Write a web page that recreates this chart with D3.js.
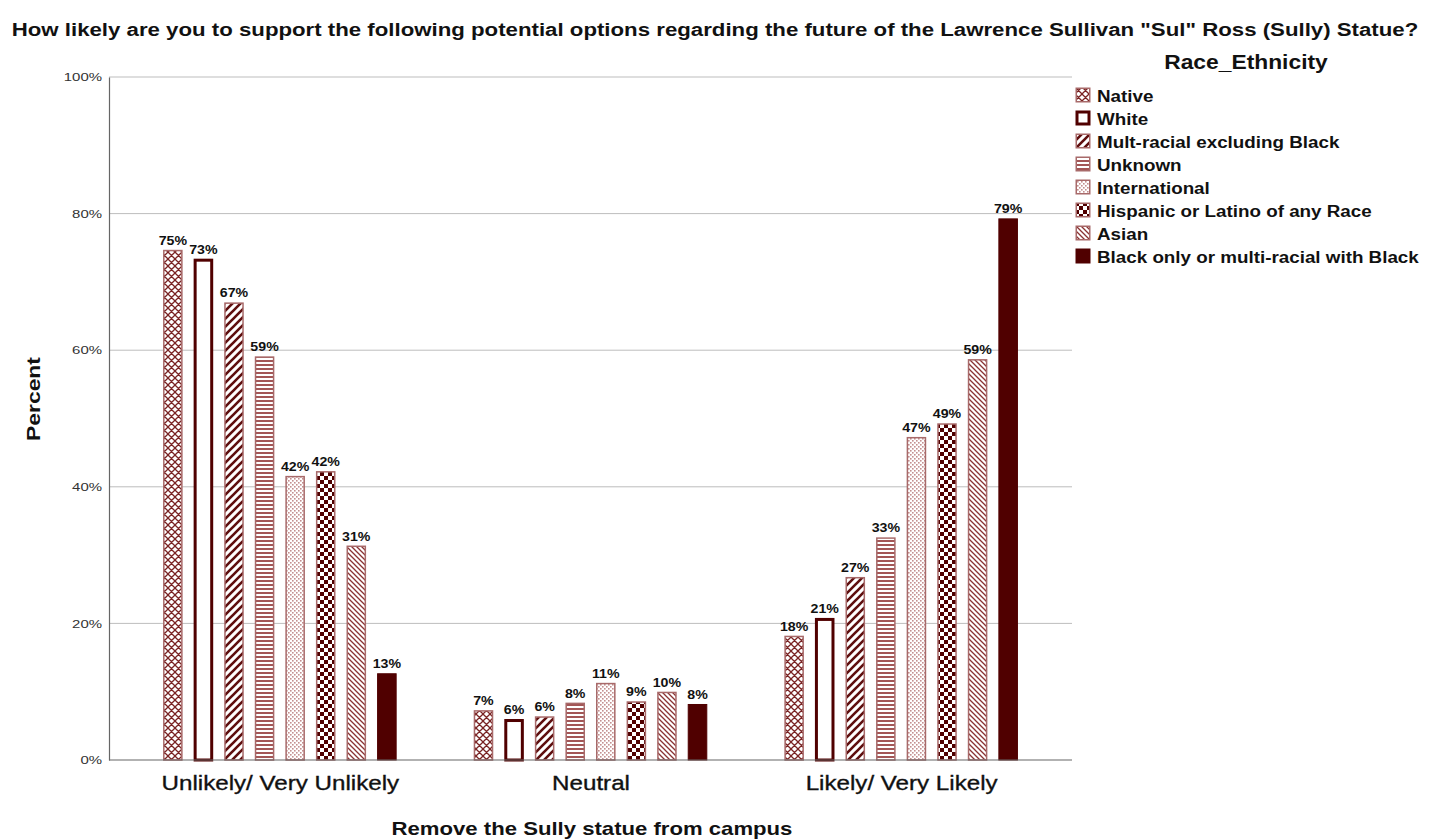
<!DOCTYPE html>
<html>
<head>
<meta charset="utf-8">
<script src="https://cdn.jsdelivr.net/npm/d3@7"></script>
<style>
  html, body { margin: 0; padding: 0; background: #fff; }
  svg { display: block; font-family: "Liberation Sans", Arial, sans-serif; }
</style>
</head>
<body>
<svg id="chart" width="1437" height="840"></svg>
<script>
// Response categories along the x axis
const categories = ["Unlikely/ Very Unlikely", "Neutral", "Likely/ Very Likely"];

// Race / ethnicity groups (legend order)
const groups = [
  "Native",
  "White",
  "Mult-racial excluding Black",
  "Unknown",
  "International",
  "Hispanic or Latino of any Race",
  "Asian",
  "Black only or multi-racial with Black"
];

// Percent of each group choosing each response
const nativeVals   = [74.7, 7.3, 18.2];
const whiteVals    = [73.4, 6.0, 20.8];
const multiVals    = [67.0, 6.4, 26.8];
const unknownVals  = [59.1, 8.4, 32.6];
const intlVals     = [41.6, 11.3, 47.3];
const hispanicVals = [42.3, 8.6, 49.3];
const asianVals    = [31.4, 10.0, 58.7];
const blackVals    = [12.7, 8.2, 79.3];

const seriesValues = [nativeVals, whiteVals, multiVals, unknownVals, intlVals, hispanicVals, asianVals, blackVals];

const yTicks = [0, 20, 40, 60, 80, 100];

const chartTitle = "How likely are you to support the following potential options regarding the future of the Lawrence Sullivan \"Sul\" Ross (Sully) Statue?";
const xTitle = "Remove the Sully statue from campus";
const yTitle = "Percent";
const legendTitle = "Race_Ethnicity";

const rows = [];
categories.forEach((c, ci) => {
  groups.forEach((g, gi) => rows.push({ cat: c, group: g, gi: gi, value: seriesValues[gi][ci] }));
});

const svg = d3.select("#chart");
const maroon = "#500000";
const light = "#a86a6a";

// widen glyphs horizontally by a factor (the output uses a broad face)
function widen(sel, k) {
  sel.each(function () {
    const w = this.getComputedTextLength();
    d3.select(this).attr("textLength", w * k).attr("lengthAdjust", "spacingAndGlyphs");
  });
}

// ---- fill patterns ----
const defs = svg.append("defs");
function pat(id, w, h) {
  return defs.append("pattern").attr("id", id).attr("patternUnits", "userSpaceOnUse")
    .attr("width", w).attr("height", h);
}
// diamond crosshatch
let p = pat("p0", 7, 7);
p.append("rect").attr("width", 7).attr("height", 7).attr("fill", "#fff");
p.append("path").attr("d", "M0,0L7,7M7,0L0,7M-1,6L1,8M6,-1L8,1").attr("stroke", "#7a2424").attr("stroke-width", 1.3);
// wide forward diagonals
p = pat("p2", 8, 8);
p.append("rect").attr("width", 8).attr("height", 8).attr("fill", "#fff");
p.append("path").attr("d", "M-2,10L10,-2M-2,2L2,-2M6,10L10,6").attr("stroke", "#5e0e0e").attr("stroke-width", 2.6);
// horizontal stripes
p = pat("p3", 4, 4);
p.append("rect").attr("width", 4).attr("height", 4).attr("fill", "#fff");
p.append("rect").attr("y", 0).attr("width", 4).attr("height", 2).attr("fill", "#a35656");
// fine dots
p = pat("p4", 4, 4);
p.append("rect").attr("width", 4).attr("height", 4).attr("fill", "#fff");
p.append("rect").attr("x", 0).attr("y", 0).attr("width", 1.6).attr("height", 1.6).attr("fill", "#c49090");
p.append("rect").attr("x", 2).attr("y", 2).attr("width", 1.6).attr("height", 1.6).attr("fill", "#c49090");
// checkerboard
p = pat("p5", 8, 8);
p.append("rect").attr("width", 8).attr("height", 8).attr("fill", "#fff");
p.append("rect").attr("width", 4).attr("height", 4).attr("fill", maroon);
p.append("rect").attr("x", 4).attr("y", 4).attr("width", 4).attr("height", 4).attr("fill", maroon);
// narrow back diagonals
p = pat("p6", 5, 5);
p.append("rect").attr("width", 5).attr("height", 5).attr("fill", "#fff");
p.append("path").attr("d", "M-1,-1L6,6M-1,4L1,6M4,-1L6,1").attr("stroke", "#8a3333").attr("stroke-width", 1.3);

const fills = ["url(#p0)", "#fff", "url(#p2)", "url(#p3)", "url(#p4)", "url(#p5)", "url(#p6)", maroon];
const strokes = [light, maroon, light, light, light, light, light, maroon];
const strokeW = [1.5, 3, 1.5, 1.5, 1.5, 1.5, 1.5, 1];

// ---- scales ----
const plotL = 109, plotR = 1072, plotT = 77, plotB = 760;
const x0 = d3.scalePoint().domain(categories).range([plotL, plotR]).padding(0.55);
const groupWidth = 244.6;
const x1 = d3.scaleBand().domain(groups).range([-groupWidth / 2, groupWidth / 2])
  .paddingInner(0.36).paddingOuter(0.18);
const y = d3.scaleLinear().domain([0, 100]).range([plotB, plotT]);

// ---- grid ----
svg.append("g").selectAll("line").data(yTicks.filter(t => t > 0)).join("line")
  .attr("x1", plotL).attr("x2", plotR)
  .attr("y1", d => y(d)).attr("y2", d => y(d))
  .attr("stroke", "#bdbdbd").attr("stroke-width", 1);

// ---- y axis ----
const yAxis = svg.append("g").attr("transform", `translate(${plotL},0)`)
  .call(d3.axisLeft(y).tickValues(yTicks).tickFormat(d => d + "%").tickSize(0).tickPadding(7));
yAxis.select(".domain").attr("stroke", "#666").attr("stroke-width", 1.2);
yAxis.selectAll("text").attr("font-size", 11.5).attr("fill", "#333")
  .attr("font-family", "'Liberation Sans', Arial, sans-serif");
widen(yAxis.selectAll("text"), 1.3);

// ---- bars ----
svg.append("g").selectAll("rect").data(rows).join("rect")
  .attr("x", d => x0(d.cat) + x1(d.group) + strokeW[d.gi] / 2)
  .attr("y", d => y(d.value) + strokeW[d.gi] / 2)
  .attr("width", d => x1.bandwidth() - strokeW[d.gi])
  .attr("height", d => Math.max(0, plotB - y(d.value) - strokeW[d.gi] / 2))
  .attr("fill", d => fills[d.gi])
  .attr("stroke", d => strokes[d.gi])
  .attr("stroke-width", d => strokeW[d.gi]);

// value labels
const vl = svg.append("g").selectAll("text").data(rows).join("text")
  .attr("x", d => x0(d.cat) + x1(d.group) + x1.bandwidth() / 2)
  .attr("y", d => y(d.value) - 5)
  .attr("text-anchor", "middle")
  .attr("font-size", 13.5).attr("font-weight", "bold").attr("fill", "#111")
  .text(d => Math.round(d.value) + "%");
widen(vl, 1.05);

// ---- x axis ----
svg.append("line").attr("x1", plotL).attr("x2", plotR).attr("y1", plotB).attr("y2", plotB)
  .attr("stroke", "#666").attr("stroke-width", 1.2);
const xAxis = svg.append("g").attr("transform", `translate(0,${plotB})`)
  .call(d3.axisBottom(x0).tickSize(0).tickPadding(15));
xAxis.select(".domain").remove();
xAxis.selectAll("text").attr("font-size", 21).attr("fill", "#111")
  .attr("stroke", "#111").attr("stroke-width", 0.35)
  .attr("font-family", "'Liberation Sans', Arial, sans-serif");
widen(xAxis.selectAll("text"), 1.15);

// ---- titles ----
const t1 = svg.append("text").attr("x", 715).attr("y", 36).attr("text-anchor", "middle")
  .attr("font-size", 17.5).attr("font-weight", "bold").attr("fill", "#111").text(chartTitle);
widen(t1, 1.27);
const t2 = svg.append("text").attr("x", 592).attr("y", 835).attr("text-anchor", "middle")
  .attr("font-size", 18.6).attr("font-weight", "bold").attr("fill", "#111").text(xTitle);
widen(t2, 1.19);
const t3 = svg.append("text").attr("transform", "translate(40,399) rotate(-90)").attr("text-anchor", "middle")
  .attr("font-size", 18).attr("font-weight", "bold").attr("fill", "#111").text(yTitle);
widen(t3, 1.27);

// ---- legend ----
const t4 = svg.append("text").attr("x", 1246).attr("y", 69).attr("text-anchor", "middle")
  .attr("font-size", 19.5).attr("font-weight", "bold").attr("fill", "#111").text(legendTitle);
widen(t4, 1.17);
const lg = svg.append("g").attr("transform", "translate(1075,87)");
const item = lg.selectAll("g").data(groups).join("g")
  .attr("transform", (d, i) => `translate(0,${i * 23})`);
item.append("rect")
  .attr("x", (d, i) => strokeW[i] / 2 + 0.5).attr("y", (d, i) => strokeW[i] / 2 + 0.5)
  .attr("width", (d, i) => 15 - strokeW[i]).attr("height", (d, i) => 15 - strokeW[i])
  .attr("fill", (d, i) => fills[i]).attr("stroke", (d, i) => strokes[i])
  .attr("stroke-width", (d, i) => strokeW[i]);
const li = item.append("text").attr("x", 22).attr("y", 14.5)
  .attr("font-size", 15.8).attr("font-weight", "bold").attr("fill", "#111").text(d => d);
widen(li, 1.19);
</script>
</body>
</html>
